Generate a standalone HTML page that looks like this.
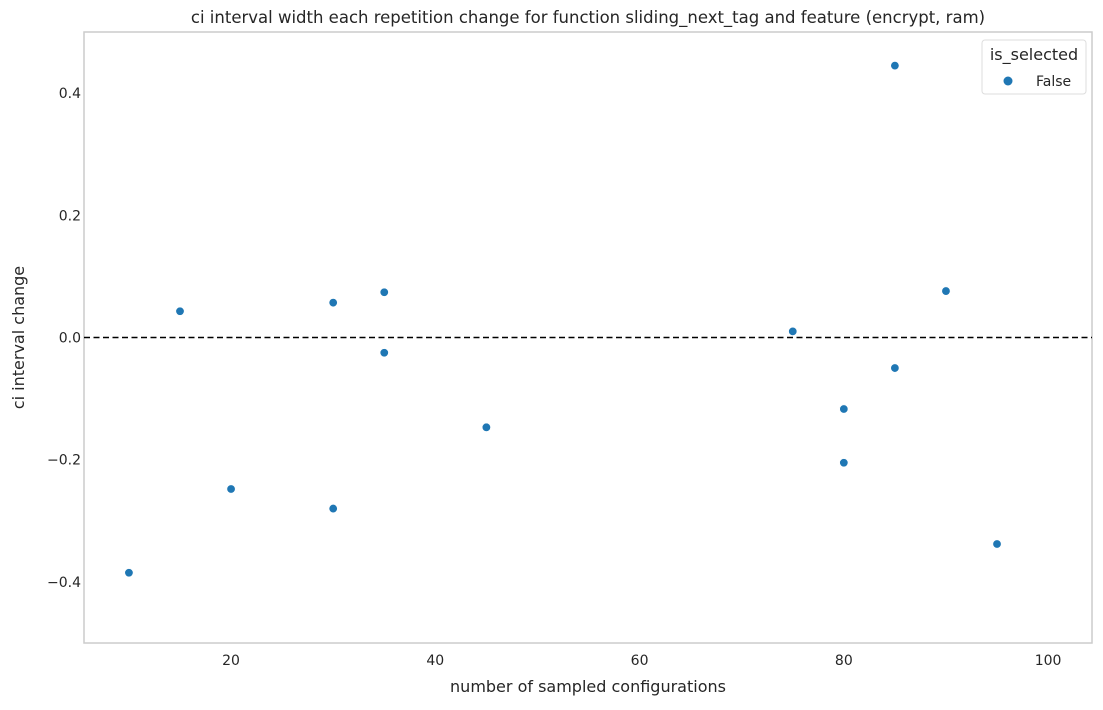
<!DOCTYPE html>
<html><head><meta charset="utf-8"><style>
body{margin:0;background:#fff;font-family:"DejaVu Sans","Liberation Sans",sans-serif;}
</style></head><body>
<svg id="c" width="1103" height="706" xmlns="http://www.w3.org/2000/svg" font-family="DejaVu Sans, Liberation Sans, sans-serif"></svg>
<script>
const xs=[10,15,20,30,30,35,35,45,75,80,80,85,85,90,95];
const ys=[-0.385,0.043,-0.248,0.057,-0.28,0.074,-0.025,-0.147,0.01,-0.117,-0.205,0.445,-0.05,0.076,-0.338];
const xTicks=[20,40,60,80,100];
const yTicks=[-0.4,-0.2,0.0,0.2,0.4];
const L=84,R=1092,T=32,B=643;
const xMin=5.6,xMax=104.3,yMin=-0.5,yMax=0.5;
const sx=v=>L+(v-xMin)/(xMax-xMin)*(R-L);
const sy=v=>B-(v-yMin)/(yMax-yMin)*(B-T);
const svg=document.getElementById('c');
const NS='http://www.w3.org/2000/svg';
function mk(tag,attrs,text){const e=document.createElementNS(NS,tag);for(const k in attrs)e.setAttribute(k,attrs[k]);if(text!==undefined)e.textContent=text;svg.appendChild(e);return e;}
let e;
e=mk('rect',{x:L,y:T,width:R-L,height:B-T,fill:'none',stroke:'#ccc','stroke-width':1.5});


xTicks.forEach(t=>{
 e=mk('text',{x:sx(t),y:B+22,'text-anchor':'middle','font-size':14,fill:'#262626'},String(t));
 
 
});
yTicks.forEach(t=>{
 const s=(t<0?'\u2212':'')+Math.abs(t).toFixed(1);
 e=mk('text',{x:L-3,y:sy(t)+5,'text-anchor':'end','font-size':14,fill:'#262626'},s);
 
 
});
e=mk('line',{x1:L,x2:R,y1:sy(0),y2:sy(0),stroke:'#000','stroke-width':1.6,'stroke-dasharray':'6,3.5'});


xs.forEach((x,i)=>{
 e=mk('circle',{cx:sx(x),cy:sy(ys[i]),r:4.2,fill:'#1f77b4',stroke:'#fff','stroke-width':0.6});
 
 
});
e=mk('text',{x:(L+R)/2,y:23,'text-anchor':'middle','font-size':16.5,fill:'#262626'},'ci interval width each repetition change for function sliding_next_tag and feature (encrypt, ram)');


e=mk('text',{x:(L+R)/2,y:692,'text-anchor':'middle','font-size':16,fill:'#262626'},'number of sampled configurations');


e=mk('text',{x:24,y:(T+B)/2,'text-anchor':'middle','font-size':16,fill:'#262626',transform:'rotate(-90 24 '+((T+B)/2)+')'},'ci interval change');


e=mk('rect',{x:982,y:40,width:104,height:54,rx:3,fill:'#fff',stroke:'#ddd'});


e=mk('text',{x:1034,y:60,'text-anchor':'middle','font-size':16,fill:'#262626'},'is_selected');


e=mk('circle',{cx:1008,cy:81,r:4.5,fill:'#1f77b4'});


e=mk('text',{x:1036,y:86,'font-size':14,fill:'#262626'},'False');


</script>
</body></html>
